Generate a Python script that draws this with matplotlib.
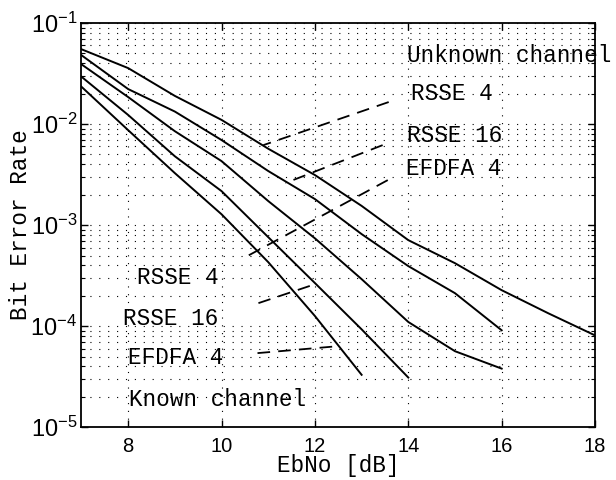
import matplotlib
matplotlib.use("Agg")
import matplotlib.pyplot as plt
from matplotlib.ticker import LogLocator, NullFormatter, FixedLocator

plt.rcParams['font.family'] = ['Liberation Sans', 'DejaVu Sans']
plt.rcParams['mathtext.default'] = 'regular'
plt.rcParams['axes.unicode_minus'] = False

# ---- data ----
ebno_a = [7, 8, 9, 10, 11, 12, 13, 14, 15, 16, 17, 18]
ber_a = [0.055, 0.0358, 0.019, 0.011, 5.7e-3, 3.13e-3, 1.55e-3, 7.1e-4, 4.2e-4, 2.27e-4, 1.34e-4, 8.1e-5]

ebno_b = [7, 8, 9, 10, 11, 12, 13, 14, 15, 16]
ber_b = [0.048, 0.0222, 0.0133, 6.95e-3, 3.43e-3, 1.81e-3, 8.15e-4, 3.93e-4, 2.12e-4, 9.1e-5]

ebno_c = [7, 8, 9, 10, 11, 12, 13, 14, 15, 16]
ber_c = [0.039, 0.0185, 8.5e-3, 4.3e-3, 1.73e-3, 7.4e-4, 2.92e-4, 1.1e-4, 5.65e-5, 3.8e-5]

ebno_d = [7, 8, 9, 10, 11, 12, 13, 14]
ber_d = [0.0294, 0.0123, 4.8e-3, 2.17e-3, 7.6e-4, 2.67e-4, 9.3e-5, 3.1e-5]

ebno_e = [7, 8, 9, 10, 11, 12, 13]
ber_e = [0.0234, 0.0087, 3.27e-3, 1.28e-3, 4.3e-4, 1.26e-4, 3.3e-5]

# annotation texts: (label, x, y)
labels = ["Unknown channel", "RSSE 4", "RSSE 16", "EFDFA 4",
          "RSSE 4", "RSSE 16", "EFDFA 4", "Known channel"]
label_x = [13.97, 14.05, 13.98, 13.96, 8.19, 7.89, 8.0, 8.02]
label_y = [0.0482, 0.0203, 7.78e-3, 3.66e-3, 3.05e-4, 1.2e-4, 4.93e-5, 1.89e-5]

# dashed pointer lines: (x0, y0, x1, y1)
ptr_x0 = [13.58, 13.45, 13.56, 10.79, 10.77]
ptr_y0 = [0.01652, 6.19e-3, 2.79e-3, 1.69e-4, 5.41e-5]
ptr_x1 = [10.895, 11.37, 10.47, 12.01, 12.50]
ptr_y1 = [6.19e-3, 2.61e-3, 4.71e-4, 2.61e-4, 6.34e-5]

xticks = [8, 10, 12, 14, 16, 18]

fig = plt.figure(figsize=(6.16, 4.8), dpi=100)
ax = fig.add_axes([0.1323, 0.110, 0.8337, 0.842])

for xs, ys in [(ebno_a, ber_a), (ebno_b, ber_b), (ebno_c, ber_c),
               (ebno_d, ber_d), (ebno_e, ber_e)]:
    ax.plot(xs, ys, color='black', lw=1.4, zorder=3)

for x0, y0, x1, y1 in zip(ptr_x0, ptr_y0, ptr_x1, ptr_y1):
    ax.plot([x0, x1], [y0, y1], color='black', lw=1.3,
            linestyle=(0, (7, 4.5)), zorder=3)

mono = ['Liberation Mono', 'DejaVu Sans Mono']
for t, x, y in zip(labels, label_x, label_y):
    ax.text(x, y, t, ha='left', va='center', fontsize=16.3,
            family=mono, zorder=4, clip_on=False)

ax.set_yscale('log')
ax.set_xlim(7, 18)
ax.set_ylim(1e-5, 1e-1)
ax.xaxis.set_major_locator(FixedLocator(xticks))
ax.yaxis.set_major_locator(LogLocator(base=10, numticks=10))
ax.yaxis.set_minor_locator(LogLocator(base=10, subs=range(2, 10), numticks=20))
ax.yaxis.set_minor_formatter(NullFormatter())

ax.grid(True, which='major', axis='x', color='black', lw=0.8,
        linestyle=(0, (1, 6)))
ax.grid(True, which='both', axis='y', color='black', lw=0.8,
        linestyle=(0, (1, 7)))

ax.tick_params(which='both', direction='in', top=True, right=True)
ax.tick_params(which='major', length=5, width=1)
ax.tick_params(which='minor', length=3, width=0.8)
ax.tick_params(axis='x', which='major', pad=7, labelsize=14.5)
ax.tick_params(axis='y', which='major', pad=3, labelsize=17)

for sp in ax.spines.values():
    sp.set_linewidth(1.3)

ax.set_xlabel('EbNo [dB]', family=mono, fontsize=16.3, va='center')
ax.xaxis.set_label_coords(0.5, -0.096)
ax.set_ylabel('Bit Error Rate', family=mono, fontsize=16.3, va='center')
ax.yaxis.set_label_coords(-0.1184, 0.5)

fig.savefig('out.png', dpi=100)
